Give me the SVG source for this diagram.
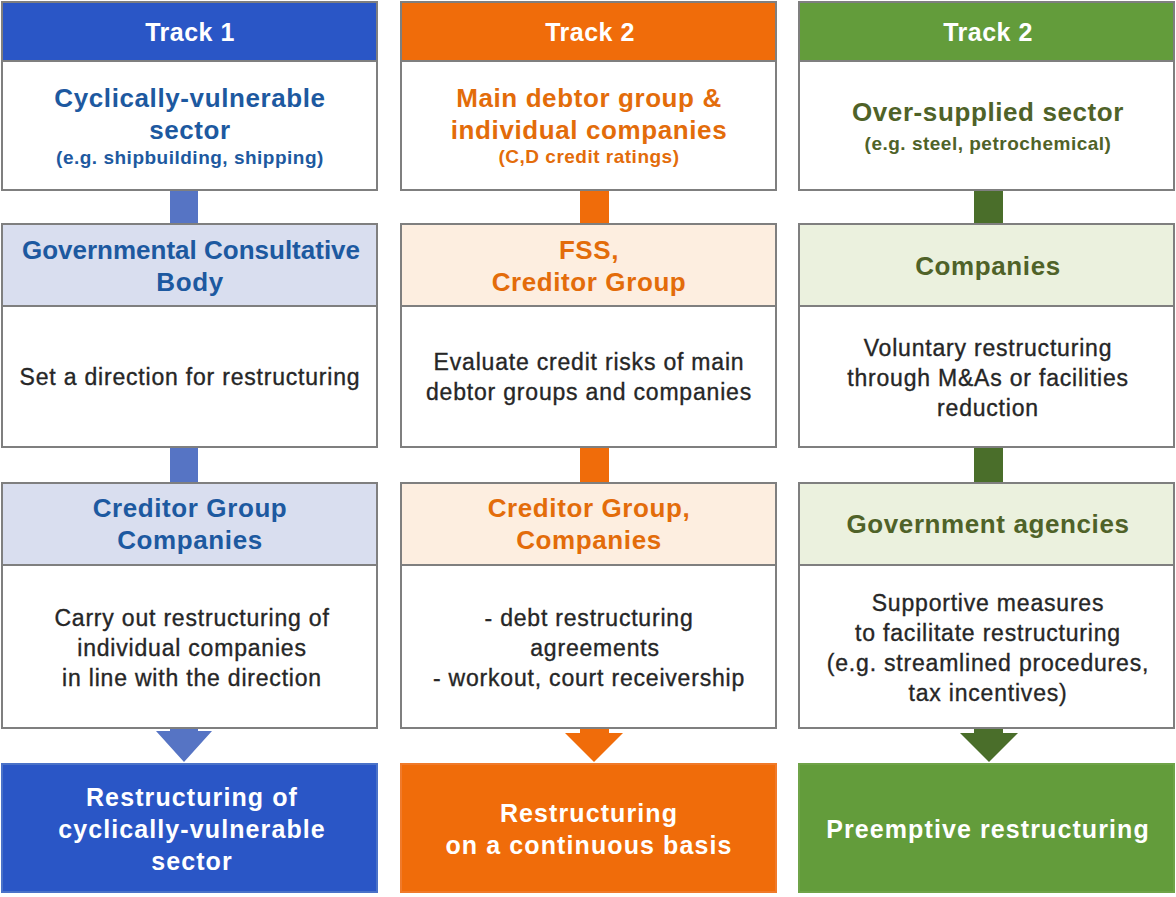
<svg xmlns="http://www.w3.org/2000/svg" width="1176" height="897" viewBox="0 0 1176 897">
<style>
text{font-family:"Liberation Sans",Arial,sans-serif;text-anchor:middle}
.box{stroke:#7f7f7f;stroke-width:2}
.hd{font-weight:bold;font-size:25px;letter-spacing:0.5px;fill:#fff}
.h{font-weight:bold;font-size:26px;letter-spacing:0.6px}
.s{font-weight:bold;font-size:19px;letter-spacing:0.5px}
.b{font-size:23px;letter-spacing:0.8px;fill:#262626;stroke:#262626;stroke-width:0.35px}
.fin{font-weight:bold;font-size:25px;letter-spacing:1.1px;fill:#fff}
.bl{fill:#1d59a0}.or{fill:#e36c0a}.gr{fill:#4f6228}
</style>
<rect width="1176" height="897" fill="#fff"/>
<g id="connectors">
<rect x="170" y="190" width="28" height="34" fill="#5674c4"/>
<rect x="170" y="447" width="28" height="36" fill="#5674c4"/>
<path d="M170 728H198V731H212L184 762L156 731H170Z" fill="#5674c4"/>
<rect x="580" y="190" width="29" height="34" fill="#f06c0a"/>
<rect x="580" y="447" width="29" height="36" fill="#f06c0a"/>
<path d="M580 728H609V733H623L594 762L565 733H580Z" fill="#f06c0a"/>
<rect x="974" y="190" width="29" height="34" fill="#4a6e2a"/>
<rect x="974" y="447" width="29" height="36" fill="#4a6e2a"/>
<path d="M974 728H1003V733H1018L989 762L960 733H974Z" fill="#4a6e2a"/>
</g>
<g id="track1-header"><rect class="box" x="2" y="2" width="375" height="59" fill="#2a56c6"/><text class="hd" x="190" y="41">Track 1</text></g>
<g id="track1-sector"><rect class="box" x="2" y="61" width="375" height="129" fill="#fff"/>
<text class="h bl" x="190" y="107">Cyclically-vulnerable</text><text class="h bl" x="190" y="139">sector</text><text class="s bl" x="190" y="164">(e.g. shipbuilding, shipping)</text></g>
<g id="track1-gov"><rect class="box" x="2" y="224" width="375" height="82" fill="#d9deef"/>
<text class="h bl" x="191" y="259" style="letter-spacing:0">Governmental  Consultative</text><text class="h bl" x="190" y="291">Body</text></g>
<g id="track1-gov-body"><rect class="box" x="2" y="306" width="375" height="141" fill="#fff"/>
<text class="b" x="190" y="385">Set a direction for restructuring</text></g>
<g id="track1-creditor"><rect class="box" x="2" y="483" width="375" height="82" fill="#d9deef"/>
<text class="h bl" x="190" y="517">Creditor Group</text><text class="h bl" x="190" y="549">Companies</text></g>
<g id="track1-creditor-body"><rect class="box" x="2" y="565" width="375" height="163" fill="#fff"/>
<text class="b" x="192" y="626">Carry out restructuring of</text><text class="b" x="192" y="656">individual companies</text><text class="b" x="192" y="686">in line with the direction</text></g>
<g id="track1-result"><rect x="2" y="764" width="375" height="128" fill="#2a56c6" stroke="#4a72c8" stroke-width="2"/>
<text class="fin" x="192" y="806">Restructuring of</text><text class="fin" x="192" y="838">cyclically-vulnerable</text><text class="fin" x="192" y="870">sector</text></g>

<g id="track2-header"><rect class="box" x="401" y="2" width="375" height="59" fill="#f06c0a"/><text class="hd" x="590" y="41">Track 2</text></g>
<g id="track2-sector"><rect class="box" x="401" y="61" width="375" height="129" fill="#fff"/>
<text class="h or" x="589" y="107">Main debtor group &amp;</text><text class="h or" x="589" y="139">individual companies</text><text class="s or" x="589" y="163">(C,D credit ratings)</text></g>
<g id="track2-fss"><rect class="box" x="401" y="224" width="375" height="82" fill="#fdeee0"/>
<text class="h or" x="589" y="259">FSS,</text><text class="h or" x="589" y="291">Creditor Group</text></g>
<g id="track2-fss-body"><rect class="box" x="401" y="306" width="375" height="141" fill="#fff"/>
<text class="b" x="589" y="370">Evaluate credit risks of main</text><text class="b" x="589" y="400">debtor groups and companies</text></g>
<g id="track2-creditor"><rect class="box" x="401" y="483" width="375" height="82" fill="#fdeee0"/>
<text class="h or" x="589" y="517">Creditor Group,</text><text class="h or" x="589" y="549">Companies</text></g>
<g id="track2-creditor-body"><rect class="box" x="401" y="565" width="375" height="163" fill="#fff"/>
<text class="b" x="589" y="626">- debt restructuring</text><text class="b" x="595" y="656">agreements</text><text class="b" x="589" y="686">- workout, court receivership</text></g>
<g id="track2-result"><rect x="401" y="764" width="375" height="128" fill="#f06c0a" stroke="#f07a2a" stroke-width="2"/>
<text class="fin" x="589" y="822">Restructuring</text><text class="fin" x="589" y="854">on a continuous basis</text></g>

<g id="track3-header"><rect class="box" x="799" y="2" width="375" height="59" fill="#639c3b"/><text class="hd" x="988" y="41">Track 2</text></g>
<g id="track3-sector"><rect class="box" x="799" y="61" width="375" height="129" fill="#fff"/>
<text class="h gr" x="988" y="121">Over-supplied sector</text><text class="s gr" x="988" y="150">(e.g. steel, petrochemical)</text></g>
<g id="track3-companies"><rect class="box" x="799" y="224" width="375" height="82" fill="#ebf1de"/>
<text class="h gr" x="988" y="275">Companies</text></g>
<g id="track3-companies-body"><rect class="box" x="799" y="306" width="375" height="141" fill="#fff"/>
<text class="b" x="988" y="356">Voluntary restructuring</text><text class="b" x="988" y="386">through M&amp;As or facilities</text><text class="b" x="988" y="416">reduction</text></g>
<g id="track3-gov"><rect class="box" x="799" y="483" width="375" height="82" fill="#ebf1de"/>
<text class="h gr" x="988" y="533">Government  agencies</text></g>
<g id="track3-gov-body"><rect class="box" x="799" y="565" width="375" height="163" fill="#fff"/>
<text class="b" x="988" y="611">Supportive measures</text><text class="b" x="988" y="641">to facilitate restructuring</text><text class="b" x="988" y="671">(e.g. streamlined procedures,</text><text class="b" x="988" y="701">tax incentives)</text></g>
<g id="track3-result"><rect x="799" y="764" width="375" height="128" fill="#639c3b" stroke="#6fa348" stroke-width="2"/>
<text class="fin" x="988" y="838">Preemptive restructuring</text></g>
</svg>
